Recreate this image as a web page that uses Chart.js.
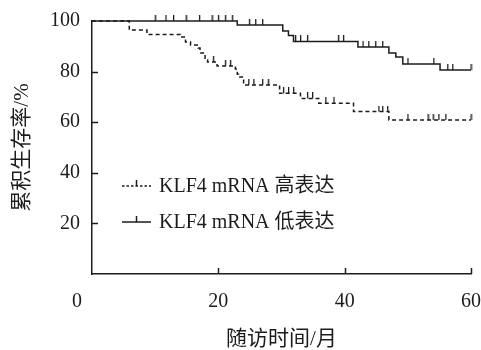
<!DOCTYPE html>
<html>
<head>
<meta charset="utf-8">
<script src="https://cdn.jsdelivr.net/npm/chart.js@4"></script>
<style>
  body { margin: 0; background: #fff; }
</style>
</head>
<body>
<canvas id="km" width="481" height="350"></canvas>
<script>
// Kaplan-Meier steps: month of each drop and survival (%) after it
const highTimes = [0, 5.9, 8.7, 14.0, 14.8, 15.6, 16.8, 17.1, 17.9, 18.3, 19.8, 22.7, 23.0, 23.2, 24.0, 29.7, 33.0, 35.9, 41.4, 47.0, 60];
const highSurv  = [100, 96.4, 94.7, 93.7, 91.7, 90.5, 89.3, 87.4, 84.6, 83.8, 82.2, 81.0, 79.0, 77.9, 74.7, 71.4, 69.4, 67.5, 64.2, 60.9, 60.9];
const highCensored = [19.2, 21.1, 21.9, 24.8, 25.6, 27.0, 27.9, 30.3, 31.1, 31.9, 34.1, 34.9, 37.0, 38.3, 45.4, 46.0, 46.8, 50.0, 53.2, 54.0, 54.9, 56.0, 60];

const lowTimes = [0, 23.0, 30.2, 31.1, 31.9, 42.1, 47.0, 48.1, 49.2, 55.1, 60];
const lowSurv  = [100, 98.4, 96.0, 94.3, 91.9, 89.7, 87.4, 85.8, 83.0, 80.6, 80.6];
const lowCensored = [10.0, 11.7, 12.9, 14.9, 17.0, 19.0, 20.0, 21.1, 22.2, 24.9, 25.9, 27.0, 32.2, 33.0, 34.1, 39.0, 39.8, 42.9, 43.8, 44.9, 46.0, 50.0, 54.1, 56.3, 57.1, 60];

const groupLabels = ['KLF4 mRNA 高表达', 'KLF4 mRNA 低表达'];
const xTicks = [0, 20, 40, 60];
const yTicks = [20, 40, 60, 80, 100];

const INK = '#1c1c1c';
const FONT = "'Liberation Serif', 'Noto Sans CJK SC', serif";
const HIGH_DASH = [4, 3];

function steps(times, surv) {
  return times.map((t, i) => ({x: t, y: surv[i]}));
}

function survAt(times, surv, t) {
  let s = surv[0];
  for (let i = 0; i < times.length; i++) {
    if (times[i] <= t) s = surv[i];
  }
  return s;
}

function censorPoints(cens, times, surv) {
  return cens.map(t => ({x: t, y: survAt(times, surv, t)}));
}

// small upward tick used for censored cases
function censorMark() {
  const c = document.createElement('canvas');
  c.width = 3;
  c.height = 12;
  const g = c.getContext('2d');
  g.fillStyle = INK;
  g.fillRect(1, 0, 1.3, 6);
  return c;
}
const mark = censorMark();

const axisTicks = {
  id: 'axisTicks',
  afterDraw(chart) {
    const {ctx, scales: {x, y}} = chart;
    ctx.save();
    ctx.strokeStyle = INK;
    ctx.lineWidth = 1.5;
    ctx.beginPath();
    xTicks.slice(1).forEach(v => {
      const px = Math.round(x.getPixelForValue(v)) + 0.5;
      ctx.moveTo(px, y.bottom);
      ctx.lineTo(px, y.bottom - 6);
    });
    yTicks.slice(0, -1).forEach(v => {
      const py = Math.round(y.getPixelForValue(v)) + 0.5;
      ctx.moveTo(x.left, py);
      ctx.lineTo(x.left + 6, py);
    });
    ctx.stroke();
    ctx.restore();
  }
};

const kmLegend = {
  id: 'kmLegend',
  afterDraw(chart) {
    const {ctx, chartArea} = chart;
    const x0 = chartArea.left + 30;
    const rows = [chartArea.top + 165, chartArea.top + 201];
    ctx.save();
    ctx.strokeStyle = INK;
    ctx.fillStyle = INK;
    ctx.lineWidth = 1.5;
    rows.forEach((ry, i) => {
      ctx.setLineDash(i === 0 ? [2.5, 2] : []);
      ctx.beginPath();
      ctx.moveTo(x0, ry);
      ctx.lineTo(x0 + 29, ry);
      ctx.stroke();
      ctx.setLineDash([]);
      ctx.beginPath();
      ctx.moveTo(x0 + 14.5, ry);
      ctx.lineTo(x0 + 14.5, ry - 6);
      ctx.stroke();
      ctx.font = '20px ' + FONT;
      ctx.textBaseline = 'middle';
      ctx.fillText(groupLabels[i], x0 + 37, ry + 1);
    });
    ctx.restore();
  }
};

function noPad(s) {
  s.paddingLeft = 0;
  s.paddingRight = 0;
  s.paddingTop = 0;
  s.paddingBottom = 0;
}

new Chart(document.getElementById('km'), {
  type: 'scatter',
  data: {
    datasets: [
      {
        label: groupLabels[0],
        type: 'line',
        data: steps(highTimes, highSurv),
        stepped: 'before',
        borderColor: INK,
        borderWidth: 1.5,
        borderDash: HIGH_DASH,
        pointRadius: 0,
        fill: false,
        clip: false
      },
      {
        label: groupLabels[1],
        type: 'line',
        data: steps(lowTimes, lowSurv),
        stepped: 'before',
        borderColor: INK,
        borderWidth: 1.5,
        pointRadius: 0,
        fill: false,
        clip: false
      },
      {
        label: 'censored-high',
        data: censorPoints(highCensored, highTimes, highSurv),
        pointStyle: mark,
        clip: false
      },
      {
        label: 'censored-low',
        data: censorPoints(lowCensored, lowTimes, lowSurv),
        pointStyle: mark,
        clip: false
      }
    ]
  },
  options: {
    responsive: false,
    animation: false,
    devicePixelRatio: 1,
    layout: { padding: { top: 21, right: 10, left: 0, bottom: 0 } },
    plugins: {
      legend: { display: false },
      tooltip: { enabled: false }
    },
    scales: {
      x: {
        type: 'linear',
        min: 0,
        max: 60,
        afterBuildTicks: s => { s.ticks = xTicks.map(v => ({value: v})); },
        afterFit: s => { s.height = 76; noPad(s); },
        grid: { display: false, drawTicks: false },
        border: { display: true, color: INK, width: 1.5 },
        ticks: {
          color: INK,
          font: { family: FONT, size: 20 },
          padding: 16,
          maxRotation: 0,
          callback: v => v === 0 ? '0\u2002\u2002\u2002' : String(v)
        },
        title: {
          display: true,
          text: '随访时间/月',
          color: INK,
          font: { family: FONT, size: 21, lineHeight: 1.0 },
          padding: { top: 0, bottom: 0 }
        }
      },
      y: {
        type: 'linear',
        min: 0,
        max: 100,
        afterBuildTicks: s => { s.ticks = yTicks.map(v => ({value: v})); },
        afterFit: s => { s.width = 92; noPad(s); },
        grid: { display: false, drawTicks: false },
        border: { display: true, color: INK, width: 1.5 },
        ticks: {
          color: INK,
          font: { family: FONT, size: 20 },
          padding: 12
        },
        title: {
          display: true,
          text: '累积生存率/%',
          color: INK,
          font: { family: FONT, size: 21 },
          padding: { top: 10, bottom: 0 }
        }
      }
    }
  },
  plugins: [axisTicks, kmLegend]
});
</script>
</body>
</html>
